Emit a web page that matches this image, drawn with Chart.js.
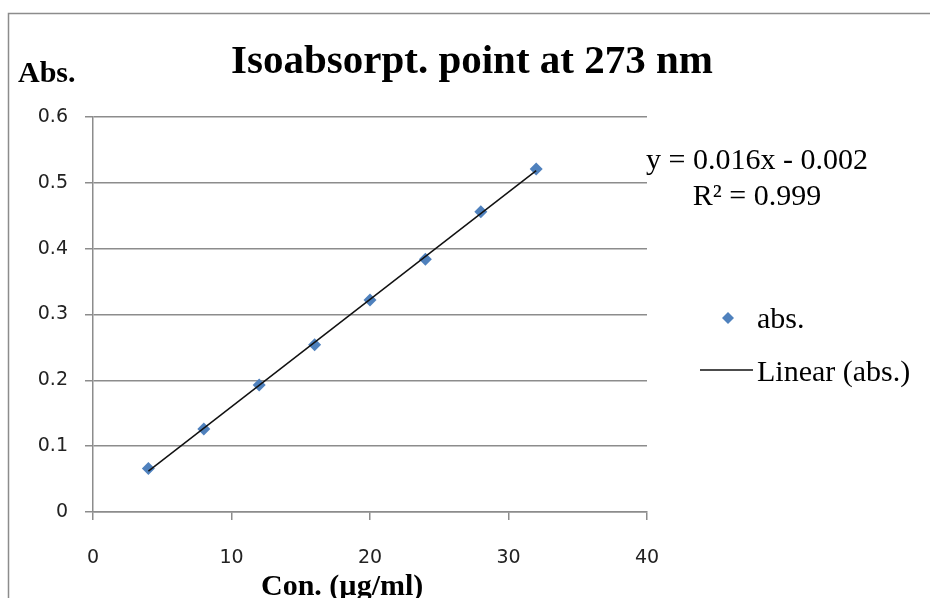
<!DOCTYPE html>
<html>
<head>
<meta charset="utf-8">
<script src="https://cdn.jsdelivr.net/npm/chart.js@4.4.0/dist/chart.umd.min.js"></script>
<style>
  html, body { margin: 0; padding: 0; background: #fff; }
  #wrap { width: 930px; height: 598px; }
</style>
</head>
<body>
<div id="wrap"><canvas id="absChart" width="930" height="598"></canvas></div>
<script>
// concentration (ug/ml) and absorbance
const conc = [4, 8, 12, 16, 20, 24, 28, 32];
const absVals = [0.066, 0.126, 0.193, 0.254, 0.322, 0.384, 0.456, 0.521];
const xTicks = [0, 10, 20, 30, 40];
const yTicks = [0, 0.1, 0.2, 0.3, 0.4, 0.5, 0.6];

// least squares line, like the Excel trendline
function linFit(xs, ys) {
    const n = xs.length;
    let mx = 0, my = 0;
    for (let i = 0; i < n; i++) { mx += xs[i]; my += ys[i]; }
    mx /= n; my /= n;
    let sxy = 0, sxx = 0;
    for (let i = 0; i < n; i++) {
        sxy += (xs[i] - mx) * (ys[i] - my);
        sxx += (xs[i] - mx) * (xs[i] - mx);
    }
    const slope = sxy / sxx;
    return { slope: slope, icpt: my - slope * mx };
}
const fit = linFit(conc, absVals);
const xFirst = conc[0], xLast = conc[conc.length - 1];
const trend = [
    { x: xFirst, y: fit.slope * xFirst + fit.icpt },
    { x: xLast, y: fit.slope * xLast + fit.icpt }
];

const pts = conc.map(function (c, i) { return { x: c, y: absVals[i] }; });

const markColor = '#4f81bd';
const gridColor = '#8c8c8c';
const serif = "'Liberation Serif', 'Times New Roman', serif";

// title, axis captions, equation, legend and outer frame
const extras = {
    id: 'extras',
    beforeDraw: function (chart) {
        const c = chart.ctx;
        c.save();
        c.fillStyle = '#fff';
        c.fillRect(0, 0, chart.width, chart.height);
        c.strokeStyle = gridColor;
        c.lineWidth = 1.5;
        c.strokeRect(8.5, 13.5, 1000, 1000);
        c.restore();
    },
    afterDraw: function (chart) {
        const c = chart.ctx;
        c.save();
        c.fillStyle = '#000';
        c.textBaseline = 'alphabetic';

        c.font = 'bold 41px ' + serif;
        c.textAlign = 'center';
        c.fillText('Isoabsorpt. point at 273 nm', 472, 73);

        c.font = 'bold 30px ' + serif;
        c.textAlign = 'left';
        c.fillText('Abs.', 18, 82);
        c.fillText('Con. (\u00b5g/ml)', 261, 595);

        c.font = '30px ' + serif;
        c.textAlign = 'center';
        c.fillText('y = 0.016x - 0.002', 757, 169);
        c.fillText('R\u00b2 = 0.999', 757, 205);

        // legend
        c.fillStyle = markColor;
        c.beginPath();
        c.moveTo(728, 312); c.lineTo(734, 318); c.lineTo(728, 324); c.lineTo(722, 318);
        c.closePath();
        c.fill();
        c.strokeStyle = '#111';
        c.lineWidth = 1.5;
        c.beginPath();
        c.moveTo(700, 370); c.lineTo(753, 370);
        c.stroke();
        c.fillStyle = '#000';
        c.textAlign = 'left';
        c.fillText('abs.', 757, 328);
        c.fillText('Linear (abs.)', 757, 381);
        c.restore();
    }
};

const ctx = document.getElementById('absChart').getContext('2d');
new Chart(ctx, {
    type: 'scatter',
    data: {
        datasets: [{
            label: 'abs.',
            data: pts,
            pointStyle: 'rectRot',
            pointRadius: 6.5,
            backgroundColor: markColor,
            borderColor: markColor,
            borderWidth: 0,
            order: 1
        }, {
            label: 'Linear (abs.)',
            data: trend,
            showLine: true,
            pointRadius: 0,
            borderColor: '#111',
            borderWidth: 1.5,
            order: 0
        }]
    },
    options: {
        responsive: false,
        devicePixelRatio: 1,
        animation: false,
        layout: { padding: { top: 117, right: 283, left: 0, bottom: 0 } },
        plugins: {
            legend: { display: false },
            title: { display: false },
            tooltip: { enabled: false }
        },
        scales: {
            x: {
                type: 'linear',
                min: 0,
                max: 40,
                afterFit: function (s) { s.height = 86; },
                afterBuildTicks: function (s) { s.ticks = xTicks.map(function (v) { return { value: v }; }); },
                grid: { drawOnChartArea: false, color: gridColor, tickLength: 8, lineWidth: 1.5 },
                border: { color: gridColor, width: 1.5 },
                ticks: {
                    color: '#222',
                    padding: 27,
                    maxRotation: 0,
                    font: { family: "'DejaVu Sans', sans-serif", size: 19 }
                }
            },
            y: {
                type: 'linear',
                min: 0,
                max: 0.6,
                afterFit: function (s) { s.width = 93; },
                afterBuildTicks: function (s) { s.ticks = yTicks.map(function (v) { return { value: v }; }); },
                grid: { color: gridColor, tickLength: 8, lineWidth: 1.5 },
                border: { color: gridColor, width: 1.5 },
                ticks: {
                    color: '#222',
                    padding: 17,
                    font: { family: "'DejaVu Sans', sans-serif", size: 19 },
                    callback: function (v) { return v === 0 ? '0' : v.toFixed(1); }
                }
            }
        }
    },
    plugins: [extras]
});
</script>
</body>
</html>
